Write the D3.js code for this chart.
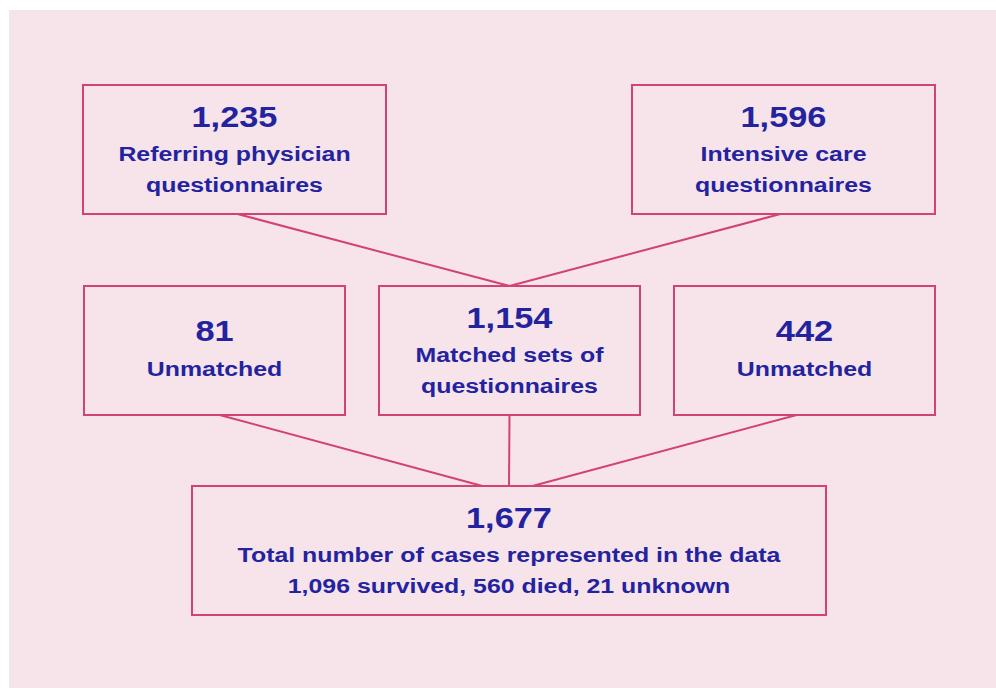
<!DOCTYPE html>
<html><head><meta charset="utf-8">
<script src="https://cdn.jsdelivr.net/npm/d3@7"></script>
<style>body{margin:0;background:#fff;}svg{display:block;}</style>
</head><body>
<script>
// Data
const nodeIds = ["rp","ic","um1","ms","um2","tot"];
const nodeValues = [1235, 1596, 81, 1154, 442, 1677];
const nodeLabels = [
  ["Referring physician","questionnaires"],
  ["Intensive care","questionnaires"],
  ["Unmatched"],
  ["Matched sets of","questionnaires"],
  ["Unmatched"],
  ["Total number of cases represented in the data","1,096 survived, 560 died, 21 unknown"]
];
const links = [["rp","ms"],["ic","ms"],["um1","tot"],["ms","tot"],["um2","tot"]];

// Layout
const W = 996, H = 688;
const svg = d3.select("body").append("svg").attr("width", W).attr("height", H);
svg.append("rect").attr("x", 9).attr("y", 10).attr("width", W - 9).attr("height", H - 10).attr("fill", "#f7e4eb");

const boxes = {
  rp:  {x: 83,  y: 85,  w: 303, h: 129},
  ic:  {x: 632, y: 85,  w: 303, h: 129},
  um1: {x: 84,  y: 286, w: 261, h: 129},
  ms:  {x: 379, y: 286, w: 261, h: 129},
  um2: {x: 674, y: 286, w: 261, h: 129},
  tot: {x: 192, y: 486, w: 634, h: 129}
};
// link endpoints (fraction across box width)
const linkFrac = {
  "rp-ms": [0.51, 0.50], "ic-ms": [0.49, 0.50],
  "um1-tot": [0.52, 0.458], "ms-tot": [0.50, 0.500], "um2-tot": [0.47, 0.537]
};
const stroke = "#d2436f", textCol = "#2323a0";
const fmt = d3.format(",");

const gLinks = svg.append("g");
links.forEach(([s, t]) => {
  const a = boxes[s], b = boxes[t], f = linkFrac[s + "-" + t];
  gLinks.append("line")
    .attr("x1", a.x + a.w * f[0]).attr("y1", a.y + a.h)
    .attr("x2", b.x + b.w * f[1]).attr("y2", b.y)
    .attr("stroke", stroke).attr("stroke-width", 2);
});

const nodes = nodeIds.map((id, i) => ({id, value: nodeValues[i], labels: nodeLabels[i], ...boxes[id]}));
const g = svg.selectAll("g.node").data(nodes).join("g").attr("class", "node");
g.append("rect")
  .attr("x", d => d.x).attr("y", d => d.y).attr("width", d => d.w).attr("height", d => d.h)
  .attr("fill", "none").attr("stroke", stroke).attr("stroke-width", 2);

g.each(function(d) {
  const cx = d.x + d.w / 2;
  const n = d.labels.length;
  // baseline positions
  const numBase = n === 1 ? d.y + 55 : d.y + 42;
  const tg = d3.select(this).append("g")
    .attr("transform", `translate(${cx},0) scale(1.185,1)`)
    .attr("font-family", "'Liberation Sans', Arial, Helvetica, sans-serif")
    .attr("font-weight", "bold").attr("fill", textCol).attr("text-anchor", "middle");
  tg.append("text").attr("x", 0).attr("y", numBase).attr("font-size", 29).text(fmt(d.value));
  d.labels.forEach((l, i) => {
    tg.append("text").attr("x", 0).attr("y", numBase + (n === 1 ? 35 : 34) + i * 31)
      .attr("font-size", 21).text(l);
  });
});
</script>
</body></html>
